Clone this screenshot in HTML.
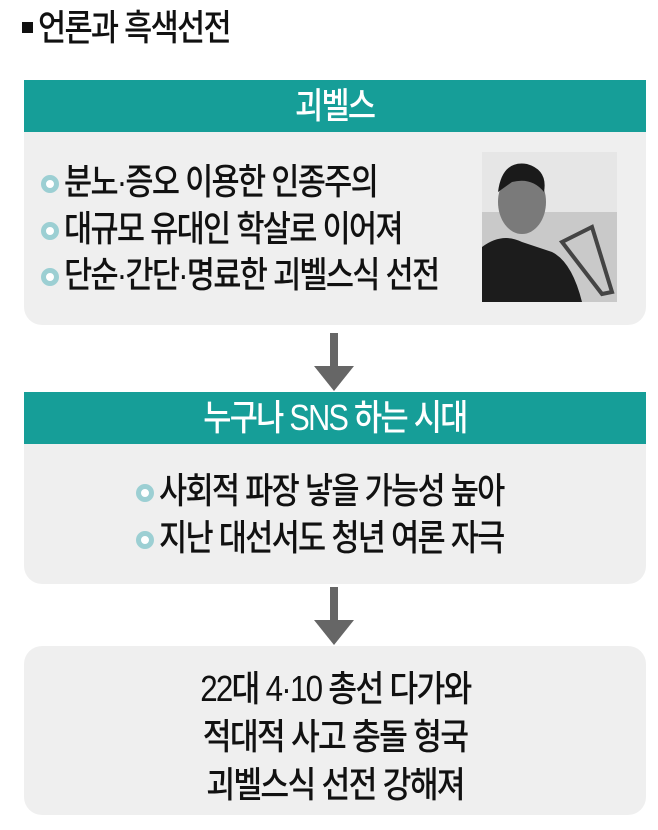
<!DOCTYPE html>
<html><head><meta charset="utf-8"><style>
body{margin:0;width:658px;height:830px;background:#fff;font-family:"Liberation Sans","Noto Sans CJK KR",sans-serif;position:relative;overflow:hidden;color:#111}
.a{position:absolute}
.hd{position:absolute;left:24px;width:622px;height:52px;background:#169e98;color:#fff;text-align:center;line-height:52px}
.hd span{display:inline-block;font-size:36px;letter-spacing:-2px;transform:scaleX(0.85);font-weight:500;white-space:nowrap}
.bd{position:absolute;left:24px;width:622px;background:#efefef;border-radius:0 0 18px 18px}
.t{position:absolute;font-size:36px;letter-spacing:-2px;white-space:nowrap;line-height:38px;transform:scaleX(0.85);transform-origin:0 0;font-weight:500}
.c{position:absolute;left:24px;width:622px;text-align:center;line-height:38px}
.c span{display:inline-block;font-size:36px;letter-spacing:-2px;white-space:nowrap;transform:scaleX(0.87);font-weight:500}
.dot{position:absolute;width:8px;height:8px;border:5px solid #9ccfd3;border-radius:50%;background:#fff}
.arr{position:absolute;left:312px;width:44px}
</style></head><body>
<div class="a" style="left:22px;top:22px;width:11px;height:11px;background:#111"></div>
<div class="t" style="left:38px;top:9px">언론과 흑색선전</div>

<div class="hd" style="top:80px"><span>괴벨스</span></div>
<div class="bd" style="top:132px;height:193px"></div>
<div class="dot" style="left:41px;top:175px"></div>
<div class="t" style="left:64px;top:163px">분노·증오 이용한 인종주의</div>
<div class="dot" style="left:41px;top:222px"></div>
<div class="t" style="left:64px;top:210px">대규모 유대인 학살로 이어져</div>
<div class="dot" style="left:41px;top:268px"></div>
<div class="t" style="left:64px;top:256px">단순·간단·명료한 괴벨스식 선전</div>
<svg class="a" style="left:482px;top:152px" width="135" height="150" viewBox="0 0 135 150">
<rect width="135" height="150" fill="#c9c9c9"/>
<rect width="135" height="60" fill="#e6e6e6"/>
<path d="M0 150 L0 95 Q20 80 40 90 L70 100 Q90 110 100 150 Z" fill="#1c1c1c"/>
<ellipse cx="40" cy="50" rx="24" ry="32" fill="#7a7a7a"/>
<path d="M16 40 Q20 8 45 12 Q66 18 62 40 Q50 25 30 30 Z" fill="#1a1a1a"/>
<path d="M80 90 L110 75 L130 140 L120 142 Z" fill="none" stroke="#444" stroke-width="4"/>
</svg>

<svg class="arr" style="top:333px" width="44" height="58"><rect x="18" y="0" width="8" height="35" fill="#666"/><polygon points="2,33 42,33 22,58" fill="#666"/></svg>

<div class="hd" style="top:392px"><span>누구나 SNS 하는 시대</span></div>
<div class="bd" style="top:444px;height:140px"></div>
<div class="dot" style="left:136px;top:484px"></div>
<div class="t" style="left:159px;top:472px">사회적 파장 낳을 가능성 높아</div>
<div class="dot" style="left:136px;top:531px"></div>
<div class="t" style="left:159px;top:519px">지난 대선서도 청년 여론 자극</div>

<svg class="arr" style="top:587px" width="44" height="58"><rect x="18" y="0" width="8" height="35" fill="#666"/><polygon points="2,33 42,33 22,58" fill="#666"/></svg>

<div class="a" style="left:24px;top:646px;width:622px;height:169px;background:#efefef;border-radius:18px"></div>
<div class="c" style="top:670px"><span>22대 4·10 총선 다가와</span></div>
<div class="c" style="top:718px"><span>적대적 사고 충돌 형국</span></div>
<div class="c" style="top:766px"><span>괴벨스식 선전 강해져</span></div>
</body></html>
